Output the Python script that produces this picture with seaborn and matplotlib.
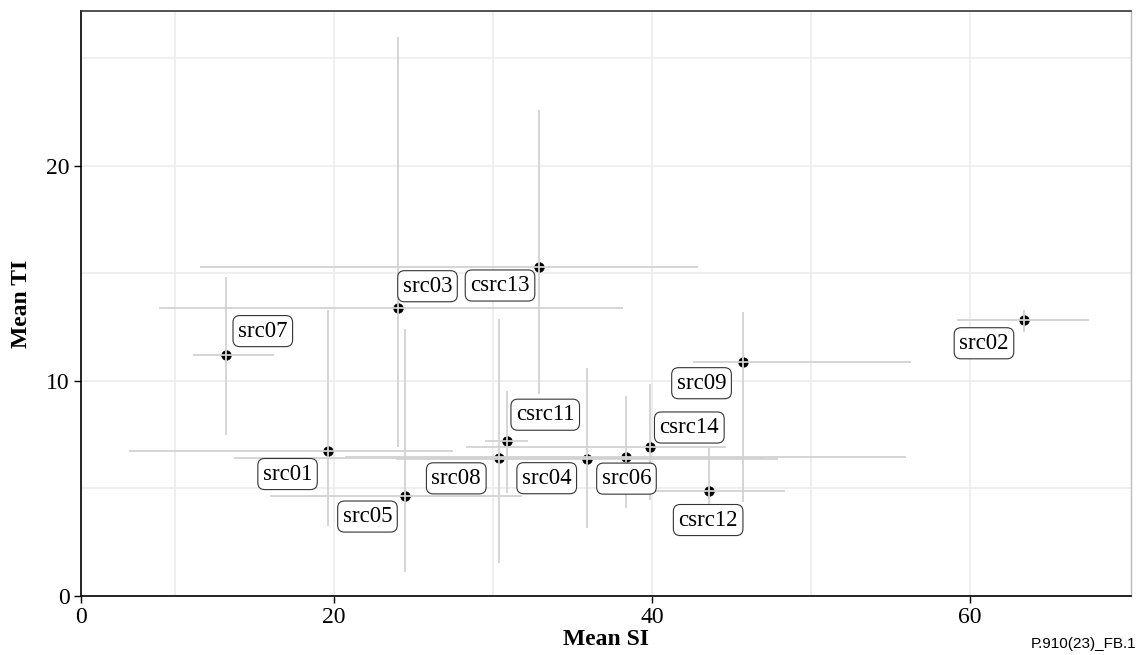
import numpy as np
import pandas as pd
import seaborn as sns
import matplotlib.pyplot as plt
from matplotlib.ticker import FixedLocator

# --- Data (Mean SI / Mean TI with ranges) ---
SOURCES = ['src01', 'src02', 'src03', 'src04', 'src05', 'src06', 'src07',
           'src08', 'src09', 'csrc11', 'csrc12', 'csrc13', 'csrc14']
MEAN_SI = [19.6, 63.4, 24.0, 35.9, 24.5, 38.4, 13.2, 30.4, 45.7, 30.9, 43.6, 32.9, 39.9]
MEAN_TI = [6.74, 12.82, 13.38, 6.36, 4.67, 6.48, 11.2, 6.4, 10.87, 7.22, 4.88, 15.32, 6.95]
SI_LOW = [7.1, 59.2, 9.0, 23.9, 16.0, 20.7, 11.15, 13.7, 42.6, 29.5, 38.8, 11.6, 28.3]
SI_HIGH = [27.5, 67.5, 38.2, 47.9, 31.8, 56.0, 16.2, 47.1, 56.3, 32.2, 48.4, 42.9, 44.65]
TI_LOW = [3.26, 12.29, 6.94, 3.18, 1.13, 4.08, 7.49, 1.55, 4.39, 4.8, 2.9, 9.4, 4.47]
TI_HIGH = [13.3, 13.3, 25.97, 10.6, 12.4, 9.3, 14.84, 12.87, 13.2, 9.55, 6.88, 22.6, 9.86]

# label offsets in pixels (repel-like placement)
LABEL_OFFSETS = {
    'src01': (-40, -23), 'src02': (-40, -23), 'src03': (30, 22),
    'src04': (-40, -19), 'src05': (-38, -21), 'src06': (0, -22),
    'src07': (37, 24), 'src08': (-43, -20), 'src09': (-41, -21),
    'csrc11': (38, 26), 'csrc12': (-1, -29), 'csrc13': (-39, -19),
    'csrc14': (39, 19),
}

SERIF = ['Liberation Serif', 'DejaVu Serif']
GRID_COL = '#ebebeb'
BAR_COL = '#d2d2d2'


def build_frame():
    df = pd.DataFrame({
        'source': SOURCES, 'si': MEAN_SI, 'ti': MEAN_TI,
        'si_lo': SI_LOW, 'si_hi': SI_HIGH, 'ti_lo': TI_LOW, 'ti_hi': TI_HIGH,
    })
    return df


def main():
    df = build_frame()

    sns.set_style('white')
    plt.rcParams['font.family'] = SERIF
    for key in ['text.color', 'axes.labelcolor', 'xtick.color', 'ytick.color']:
        plt.rcParams[key] = 'black'

    fig = plt.figure(figsize=(11.37, 6.55), dpi=100)
    ax = fig.add_axes([0.0712, 0.0901, 0.9235, 0.8931])

    # points first, the ranges are drawn over them
    sns.scatterplot(data=df, x='si', y='ti', color='black', s=50,
                    edgecolor='black', linewidth=0.3, zorder=3, ax=ax, legend=False)
    ax.errorbar(df['si'], df['ti'],
                xerr=[df['si'] - df['si_lo'], df['si_hi'] - df['si']],
                yerr=[df['ti'] - df['ti_lo'], df['ti_hi'] - df['ti']],
                fmt='none', ecolor=BAR_COL, elinewidth=1.3, capsize=0, zorder=4)

    for _, row in df.iterrows():
        dx, dy = LABEL_OFFSETS[row['source']]
        ax.annotate(row['source'], (row['si'], row['ti']),
                    xytext=(dx, dy), textcoords='offset pixels',
                    ha='center', va='center', fontsize=16.5, family=SERIF,
                    color='black', zorder=6,
                    bbox=dict(boxstyle='round,pad=0.22,rounding_size=0.3',
                              fc='white', ec='#333333', lw=0.8))

    ax.set_xlim(4.09, 70.13)
    ax.set_ylim(0, 27.2)

    # grid: majors and minors in the same light grey
    ax.xaxis.set_major_locator(FixedLocator([4.09, 20, 40, 60]))
    ax.set_xticklabels(['0', '20', '40', '60'])
    ax.xaxis.set_minor_locator(FixedLocator([10, 30, 50]))
    ax.set_yticks([0, 10, 20])
    ax.yaxis.set_minor_locator(FixedLocator([5, 15, 25]))
    ax.grid(True, which='major', color=GRID_COL, lw=1.1, zorder=0)
    ax.grid(True, which='minor', color=GRID_COL, lw=1.1, zorder=0)
    ax.set_axisbelow(True)

    ax.tick_params(axis='both', which='major', direction='out', length=5,
                   width=1.0, color='black', labelcolor='black', labelsize=17,
                   pad=3, bottom=True, left=True)
    ax.tick_params(axis='both', which='minor', length=0)
    for lab in ax.get_xticklabels() + ax.get_yticklabels():
        lab.set_family(SERIF)

    ax.spines['left'].set_color('black')
    ax.spines['bottom'].set_color('black')
    ax.spines['left'].set_linewidth(1.2)
    ax.spines['bottom'].set_linewidth(1.2)
    ax.spines['top'].set_color('#333333')
    ax.spines['top'].set_linewidth(1.2)
    ax.spines['right'].set_color('#bbbbbb')
    ax.spines['right'].set_linewidth(1.0)

    ax.set_xlabel('Mean SI', fontsize=17, fontweight='bold', family=SERIF,
                  color='black', labelpad=1)
    ax.set_ylabel('Mean TI', fontsize=17, fontweight='bold', family=SERIF,
                  color='black', labelpad=10)

    fig.text(0.9995, 0.0168, 'P.910(23)_FB.1', ha='right', va='center',
             fontsize=11, color='black', family=['Liberation Sans', 'DejaVu Sans'])

    fig.savefig('out.png', dpi=100)
    plt.close(fig)


if __name__ == '__main__':
    main()
